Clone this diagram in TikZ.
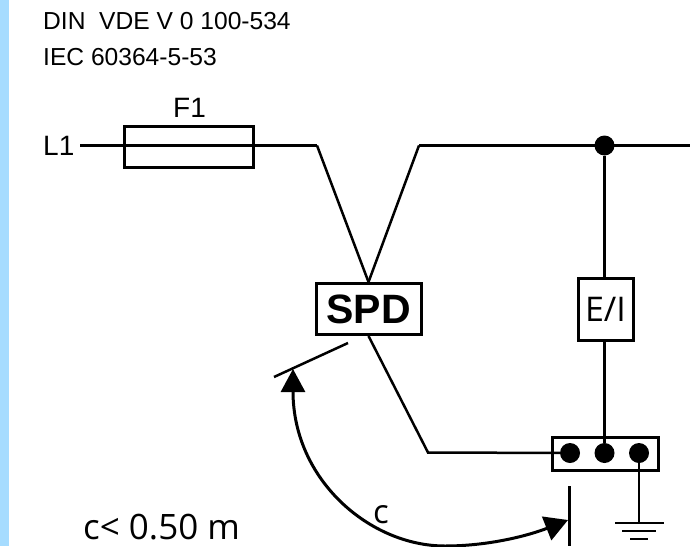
\documentclass[tikz,border=0pt]{standalone}
\usepackage{fontspec}
\setmainfont{Liberation Sans}
\newfontfamily\opensans{Open Sans}
\usetikzlibrary{arrows.meta}
\definecolor{stripe}{HTML}{A6DCFF}
\tikzset{
  wire/.style={line width=2.5pt},
  boxed/.style={draw, line width=3pt, inner sep=0pt, fill=white},
  dot/.style={circle, fill=black, inner sep=0pt, minimum size=20pt},
  label/.style={inner sep=0pt, text depth=0pt, anchor=base west},
}
\begin{document}
\begin{tikzpicture}[x=1pt, y=-1pt]
\useasboundingbox (0,0) rectangle (690,546);
% Streifen
\fill[stripe] (0,0) rectangle (8.5,546);
% Text
\node[label, font=\fontsize{24.6}{24.6}\selectfont] (din) at (43,29) {DIN\ \ VDE V 0 100-534};
\node[label, font=\fontsize{24.6}{24.6}\selectfont] (iec) at (43,65) {IEC 60364-5-53};
\node[label, font=\fontsize{28}{28}\selectfont] (lone) at (43,155) {L1};
\node[label, font=\fontsize{28}{28}\selectfont] (fname) at (173,117) {F1};
\node[label, font=\opensans\fontsize{35}{35}\selectfont] (limit) at (83,539) {c< 0.50 m};
\node[label, font=\opensans\fontsize{33}{33}\selectfont] (cname) at (373,523) {c};
% Leitung
\coordinate (start) at (80,145.5);
\coordinate (benda) at (317,145.5);
\coordinate (bendb) at (419,145.5);
\coordinate (stop) at (690,145.5);
\coordinate (bendc) at (428,452.5);
\node[dot] (join) at (604.5,145.5) {};
% Klemme
\node[boxed, minimum width=106pt, minimum height=33pt] (bar) at (605,453.5) {};
\node[dot] (pin a) at (570,453) {};
\node[dot] (pin b) at (604.5,453) {};
\node[dot] (pin c) at (639,453) {};
\draw[wire] (start) -- (benda);
\draw[wire] (bendb) -- (stop);
\draw[wire] (join) -- (pin b);
\node[boxed, minimum width=129pt, minimum height=41pt, fill=none] (fuse) at (188.5,146.5) {};
\node[boxed, minimum width=105pt, minimum height=51pt, font=\bfseries\fontsize{41}{41}\selectfont] (spd) at (368.5,309) {SPD};
\node[boxed, minimum width=55pt, minimum height=62pt, font=\opensans\fontsize{34}{34}\selectfont] (ei) at (605.5,309) {E/I};
\draw[wire] (benda) -- (spd.north);
\draw[wire] (bendb) -- (spd.north);
\draw[wire] (spd.south) -- (bendc) -- (pin a);
% Erde
\coordinate (earth) at (639,523);
\draw[wire] (pin c) -- (earth);
\draw[wire] (615,523) -- (664,523);
\draw[wire] (622,531) -- (656,531);
\draw[wire] (630,539) -- (648,539);
% Laenge c
\coordinate (tick a) at (274,377);
\coordinate (tick b) at (348,343);
\coordinate (tick c) at (569.5,486);
\coordinate (tick d) at (569.5,546);
\coordinate (tip a) at (293,369);
\coordinate (low) at (445,546);
\coordinate (tip b) at (568,520);
\draw[wire] (tick a) -- (tick b);
\draw[wire] (tick c) -- (tick d);
\draw[line width=3pt, {Triangle[length=23pt, width=24pt]}-] (tip a) .. controls (293,480) and (370,546) .. (low);
\draw[line width=3pt, -{Triangle[length=23pt, width=25pt]}] (low) .. controls (490,546) and (530,535) .. (tip b);
\end{tikzpicture}
\end{document}
